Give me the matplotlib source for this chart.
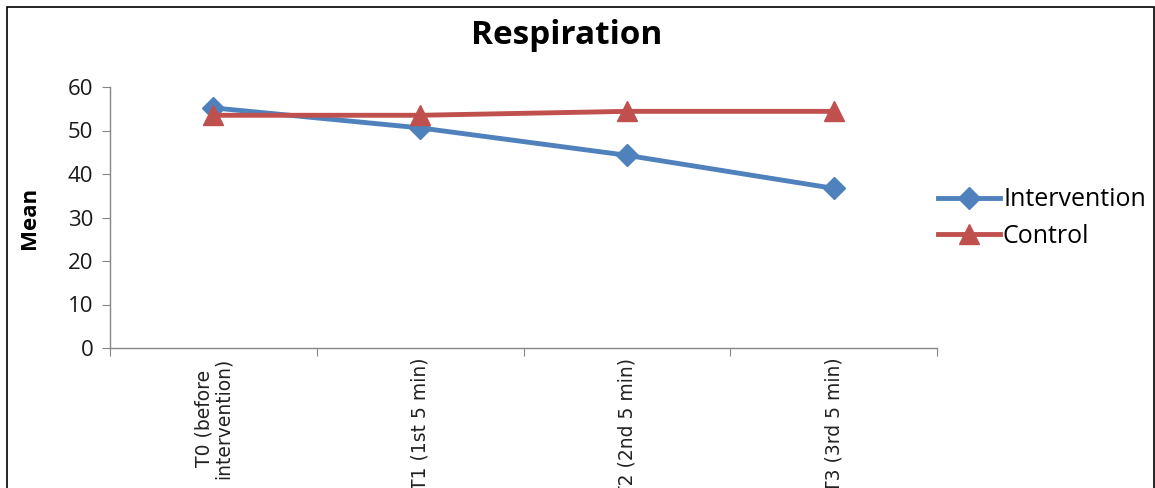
import matplotlib.pyplot as plt
from matplotlib.patches import Rectangle
from matplotlib.ticker import FixedLocator

plt.rcParams['font.family'] = ['Open Sans', 'DejaVu Sans']

# data
timepoints = ["T0 (before\nintervention)", "T1 (1st 5 min)", "T2 (2nd 5 min)", "T3 (3rd 5 min)"]
intervention = [55.2, 50.6, 44.3, 36.7]
control = [53.5, 53.5, 54.4, 54.4]

blue = '#4F81BD'
red = '#C0504D'
grey = '#868686'

fig = plt.figure(figsize=(11.55, 4.88), dpi=100)
ax = fig.add_axes([110 / 1155, 1 - 348 / 488, (937 - 110) / 1155, (348 - 87) / 488])

x = [i + 0.5 for i in range(len(timepoints))]
ax.plot(x, intervention, color=blue, lw=3.5, marker='D', ms=11, label='Intervention')
ax.plot(x, control, color=red, lw=3.5, marker='^', ms=14, label='Control')

ax.set_xlim(0, len(timepoints))
ax.set_ylim(0, 60)
ax.set_yticks(range(0, 61, 10))

# category boundaries get the tick marks, centres get the labels
# (the bottom of the labels is cut off by the image edge, as in the original)
ax.xaxis.set_major_locator(FixedLocator(range(len(timepoints) + 1)))
ax.xaxis.set_minor_locator(FixedLocator(x))
ax.set_xticklabels([''] * (len(timepoints) + 1))
ax.set_xticklabels(timepoints, minor=True, rotation=90, fontsize=13.5, color='#222222',
                   linespacing=1.0, family='DejaVu Sans')
ax.tick_params(axis='x', which='minor', length=0, pad=7)
ax.tick_params(axis='x', which='major', length=6, color=grey, direction='out')
ax.tick_params(axis='y', length=6, color=grey, direction='out', labelsize=16, pad=6,
               labelcolor='#1a1a1a')

for s in ['top', 'right']:
    ax.spines[s].set_visible(False)
for s in ['left', 'bottom']:
    ax.spines[s].set_color(grey)
    ax.spines[s].set_linewidth(1)

ax.set_ylabel('Mean', fontsize=16, fontweight='bold', labelpad=20)

fig.text(567 / 1155, 1 - 35 / 488, 'Respiration', ha='center', va='center',
         fontsize=24, fontweight='bold')

fig.legend(loc='center left', bbox_to_anchor=(915 / 1155, 1 - 218 / 488), frameon=False,
           fontsize=18, handlelength=2.5, handletextpad=0.12, labelspacing=0.45)

# outer frame of the chart
fig.patches.append(Rectangle((7 / 1155, -0.1), (1154 - 7) / 1155, 1.1 - 7 / 488,
                             transform=fig.transFigure, fill=False, ec='black', lw=1.2))

fig.savefig('out.png', dpi=100)
